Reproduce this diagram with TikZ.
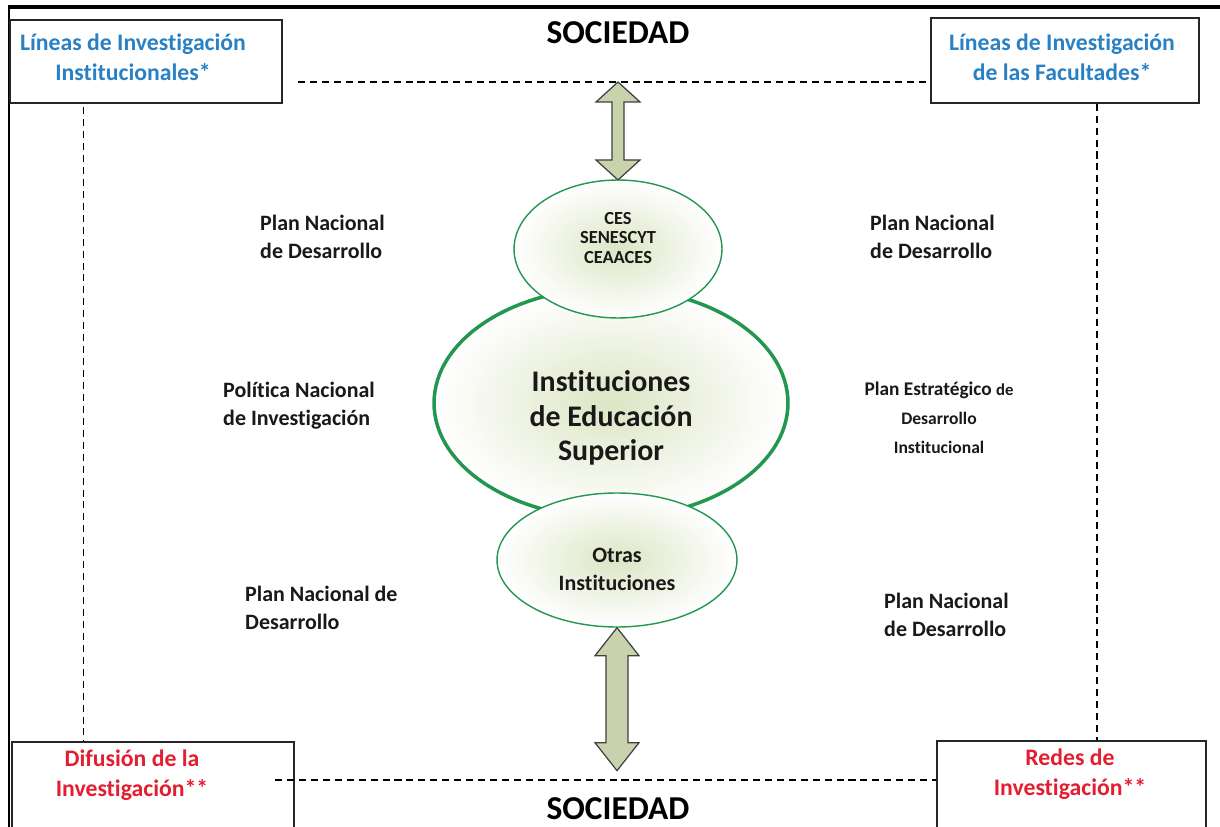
\documentclass[tikz,border=0pt]{standalone}
\usepackage{fontspec}
\setmainfont[Ligatures=NoCommon]{Carlito}
\usetikzlibrary{shapes.geometric}
\usetikzlibrary{calc}
\usetikzlibrary{positioning}
\definecolor{azulLinea}{RGB}{41,128,195}
\definecolor{rojoLinea}{RGB}{226,30,48}
\definecolor{verdeBorde}{RGB}{35,150,80}
\definecolor{verdeCentro}{RGB}{220,229,196}
\definecolor{salvia}{RGB}{200,210,172}

\begin{document}
\begin{tikzpicture}[x=0.02cm,y=-0.02cm]
\tikzstyle{caja} = [draw=black!85, line width=0.8pt, rectangle, inner sep=0pt]
\tikzstyle{titulo} = [font=\bfseries\fontsize{13.5}{17}\selectfont, align=center]
\tikzstyle{texto} = [font=\bfseries\fontsize{12.5}{16}\selectfont, align=left, text=black!90, anchor=west]
\tikzstyle{linea} = [black, line width=0.8pt, dash pattern=on 4pt off 2.8pt]
\tikzstyle{elipse} = [ellipse, draw=verdeBorde, inner color=verdeCentro, outer color=white, inner sep=0pt]
\tikzstyle{flecha} = [draw=black!75, fill=salvia, line width=0.7pt, line join=miter]

\useasboundingbox (0,0) rectangle (1220,827);
\clip (0,0) rectangle (1220,827);

% marco
\draw[line width=1.3pt] (9,840) -- (9,7);
\draw[line width=2pt] (8,7) -- (1230,7);

% cajas de las esquinas
\node[caja, minimum width=5.44cm, minimum height=1.66cm] (cajaA) at (146,61.5) {};
\node[caja, minimum width=5.36cm, minimum height=1.70cm] (cajaB) at (1065,60.5) {};
\node[caja, minimum width=5.64cm, minimum height=2.56cm] (cajaC) at (153,806) {};
\node[caja, minimum width=5.38cm, minimum height=2.58cm] (cajaD) at (1071.5,805.5) {};
\node[titulo, text=azulLinea] (lineasInst) at (133,57) {Líneas de Investigación\\Institucionales*};
\node[titulo, text=azulLinea] (lineasFac) at (1062,57) {Líneas de Investigación\\de las Facultades*};
\node[titulo, text=rojoLinea] (difusion) at (132,775) {Difusión de la\\Investigación**};
\node[titulo, text=rojoLinea] (redes) at (1070,774) {Redes de\\Investigación**};

% sociedad
\node[font=\bfseries\fontsize{19}{22}\selectfont] (socA) at (618,33) {SOCIEDAD};
\node[font=\bfseries\fontsize{19}{22}\selectfont] (socB) at (618,809) {SOCIEDAD};

% lineas punteadas
\coordinate (sA) at (298,82);
\coordinate (sB) at (275,780);
\draw[linea] (sA) -- (sA -| cajaB.west);
\draw[linea] (sB) -- (sB -| cajaD.west);
\coordinate (vA) at ($(cajaA.south west)!0.272!(cajaA.south east)$);
\coordinate (vB) at ($(cajaB.south west)!0.619!(cajaB.south east)$);
\draw[linea] ([yshift=-2pt]vA) -- (vA |- cajaC.north);
\draw[linea] (vB) -- (vB |- cajaD.north);

% elipses
\node[elipse, line width=2pt, minimum width=7.08cm, minimum height=4.6cm] (ies) at (611,403) {};
\node[elipse, line width=0.8pt, minimum width=4.16cm, minimum height=2.76cm] (ces) at (618,249) {};
\node[elipse, line width=0.8pt, minimum width=4.8cm, minimum height=2.68cm] (otras) at (617,560) {};
\node[font=\bfseries\fontsize{17}{19.5}\selectfont, align=center, text=black!90] (iesTxt) at (611,418) {Instituciones\\de Educación\\Superior};
\node[font=\bfseries\fontsize{10.5}{11}\selectfont, align=center, text=black!90] (cesTxt) at (618,238) {CES\\SENESCYT\\CEAACES};
\node[font=\bfseries\fontsize{12.5}{16}\selectfont, align=center, text=black!90] (otrasTxt) at (617,569) {Otras\\Instituciones};

% flechas dobles
\draw[flecha] (ces.north |- sA) -- ++(22,20) -- ++(-16,0) -- ++(0,58) -- ++(16,0) -- ++(-22,20)
  -- ++(-22,-20) -- ++(16,0) -- ++(0,-58) -- ++(-16,0) -- cycle;
\draw[flecha] (otras.south) -- ++(22,28) -- ++(-11,0) -- ++(0,87) -- ++(11,0) -- ++(-22,28)
  -- ++(-22,-28) -- ++(11,0) -- ++(0,-87) -- ++(-11,0) -- cycle;

% textos laterales
\node[texto] (pndA) at (254,237) {Plan Nacional\\de Desarrollo};
\node[texto] (pndB) at (864,237) {Plan Nacional\\de Desarrollo};
\node[texto] (pni) at (217,406) {Política Nacional\\de Investigación};
\node[texto] (pndC) at (239,608) {Plan Nacional de\\Desarrollo};
\node[texto] (pndD) at (878,615) {Plan Nacional\\de Desarrollo};
\node[font=\bfseries\fontsize{11}{16.4}\selectfont, align=center, text=black!90] (pedi) at (939,418)
  {Plan Estratégico {\fontsize{9.5}{16.4}\selectfont de}\\{\fontsize{10}{16.4}\selectfont Desarrollo}\\{\fontsize{10}{16.4}\selectfont Institucional}};
\end{tikzpicture}
\end{document}
